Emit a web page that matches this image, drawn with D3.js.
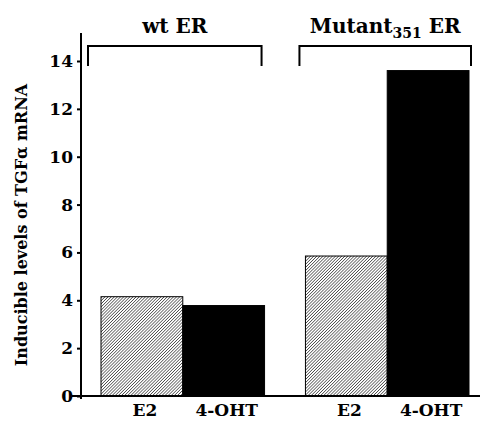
<!DOCTYPE html>
<html>
<head>
<meta charset="utf-8">
<script src="https://cdn.jsdelivr.net/npm/d3@7"></script>
<style>
  body { margin: 0; background: #fff; }
  text { font-family: "DejaVu Serif", "Liberation Serif", serif; font-weight: bold; fill: #000; }
</style>
</head>
<body>
<div id="chart"></div>
<script>
// data
const groups = ["wt ER", "Mutant ER"];
const treatments = ["E2", "4-OHT"];
const wtValues = [4.15, 3.78];
const mutantValues = [5.85, 13.6];
const yTicks = [0, 2, 4, 6, 8, 10, 12, 14];

const width = 480;
const height = 421;

const rows = [];
groups.forEach((g, i) => {
    const vals = i === 0 ? wtValues : mutantValues;
    treatments.forEach((t, j) => rows.push({ group: g, treatment: t, value: vals[j] }));
});

const svg = d3.select("#chart")
    .append("svg")
    .attr("width", width)
    .attr("height", height);

// diagonal hatch for the E2 bars
const defs = svg.append("defs");
const pat = defs.append("pattern")
    .attr("id", "hatch")
    .attr("patternUnits", "userSpaceOnUse")
    .attr("width", 2.2)
    .attr("height", 2.2)
    .attr("patternTransform", "rotate(45)");
pat.append("rect").attr("width", 2.2).attr("height", 2.2).attr("fill", "#fff");
pat.append("line")
    .attr("x1", 0).attr("y1", 0).attr("x2", 0).attr("y2", 2.2)
    .attr("stroke", "#222").attr("stroke-width", 1.2);

const y = d3.scaleLinear().domain([0, 14]).range([396, 61]);

const xGroup = d3.scaleBand()
    .domain(groups)
    .range([101, 469])
    .paddingInner(0.2)
    .paddingOuter(0);

const xInner = d3.scaleBand()
    .domain(treatments)
    .range([0, xGroup.bandwidth()])
    .padding(0);

// bars
svg.append("g")
    .selectAll("rect")
    .data(rows)
    .join("rect")
    .attr("x", d => xGroup(d.group) + xInner(d.treatment))
    .attr("y", d => y(d.value))
    .attr("width", xInner.bandwidth())
    .attr("height", d => y(0) - y(d.value))
    .attr("fill", d => d.treatment === "E2" ? "url(#hatch)" : "#000")
    .attr("stroke", "#000")
    .attr("stroke-width", 1);

// y axis
const yAxis = svg.append("g")
    .attr("transform", "translate(81,0)")
    .call(d3.axisLeft(y).tickValues(yTicks).tickSize(4).tickPadding(4));
yAxis.select(".domain").remove();
yAxis.selectAll(".tick line").attr("stroke", "#000").attr("stroke-width", 2);
yAxis.selectAll(".tick text")
    .attr("font-size", 17)
    .attr("font-family", "DejaVu Serif")
    .attr("font-weight", "bold");

svg.append("line")
    .attr("x1", 81).attr("x2", 81)
    .attr("y1", 33).attr("y2", 399)
    .attr("stroke", "#000").attr("stroke-width", 2);

// baseline
svg.append("line")
    .attr("x1", 72).attr("x2", width)
    .attr("y1", y(0)).attr("y2", y(0))
    .attr("stroke", "#000").attr("stroke-width", 2);

// x labels
svg.append("g")
    .selectAll("text")
    .data(rows)
    .join("text")
    .attr("x", d => xGroup(d.group) + xInner(d.treatment) + xInner.bandwidth() / 2 + 3)
    .attr("y", 416)
    .attr("text-anchor", "middle")
    .attr("font-size", 17)
    .text(d => d.treatment);

// brackets over each group
const bracketPad = [[-13, -3], [-6, 2]];
const br = svg.append("g")
    .selectAll("g")
    .data(groups)
    .join("g");
br.append("path")
    .attr("d", (g, i) => {
        const x0 = xGroup(g) + bracketPad[i][0];
        const x1 = xGroup(g) + xGroup.bandwidth() + bracketPad[i][1];
        return `M${x0},66V46H${x1}V66`;
    })
    .attr("fill", "none")
    .attr("stroke", "#000")
    .attr("stroke-width", 2);

const titles = br.append("text")
    .attr("x", (g, i) => (xGroup(g) + bracketPad[i][0] + xGroup(g) + xGroup.bandwidth() + bracketPad[i][1]) / 2)
    .attr("y", 33)
    .attr("text-anchor", "middle")
    .attr("font-size", 20);
titles.filter((g, i) => i === 0).text("wt ER");
const mt = titles.filter((g, i) => i === 1);
mt.append("tspan").text("Mutant");
mt.append("tspan").attr("font-size", 14).attr("dy", 5).text("351");
mt.append("tspan").attr("dy", -5).text(" ER");

// y title
svg.append("text")
    .attr("transform", "translate(27,225) rotate(-90)")
    .attr("text-anchor", "middle")
    .attr("font-size", 16)
    .text("Inducible levels of TGFα mRNA");
</script>
</body>
</html>
